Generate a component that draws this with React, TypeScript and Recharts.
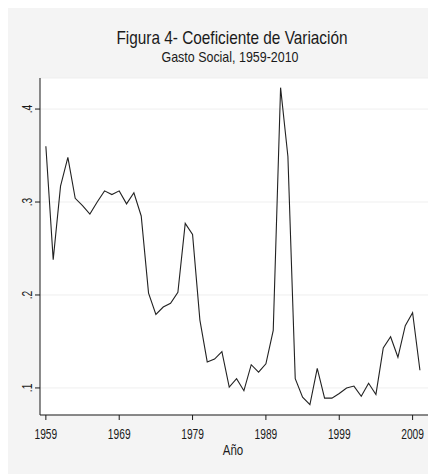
import React from "react";
import { LineChart, Line, XAxis, YAxis, CartesianGrid } from "recharts";

const years = [
  1959, 1960, 1961, 1962, 1963, 1964, 1965, 1966, 1967, 1968, 1969, 1970,
  1971, 1972, 1973, 1974, 1975, 1976, 1977, 1978, 1979, 1980, 1981, 1982,
  1983, 1984, 1985, 1986, 1987, 1988, 1989, 1990, 1991, 1992, 1993, 1994,
  1995, 1996, 1997, 1998, 1999, 2000, 2001, 2002, 2003, 2004, 2005, 2006,
  2007, 2008, 2009, 2010,
];

const cv = [
  0.36, 0.238, 0.317, 0.348, 0.304, 0.296, 0.287, 0.3, 0.312, 0.308, 0.312,
  0.298, 0.31, 0.285, 0.202, 0.179, 0.187, 0.191, 0.203, 0.277, 0.265, 0.173,
  0.128, 0.131, 0.139, 0.101, 0.11, 0.097, 0.125, 0.117, 0.126, 0.162, 0.423,
  0.349, 0.11, 0.09, 0.082, 0.121, 0.089, 0.089, 0.094, 0.1, 0.102, 0.091,
  0.105, 0.093, 0.143, 0.155, 0.133, 0.167, 0.181, 0.119,
];

const xTicks = [1959, 1969, 1979, 1989, 1999, 2009];
const yTicks = [0.1, 0.2, 0.3, 0.4];

const data = years.map((y, i) => ({ year: y, cv: cv[i] }));

// no narrow font installed, so squeeze Arial-like text horizontally
const font = "'Liberation Sans', Arial, sans-serif";
const ink = "#1a1a1a";
const squeeze = 0.73;

const XTick = (props: any) => {
  const { x, y, payload } = props;
  return (
    <text
      transform={`translate(${x} ${y + 17}) scale(${squeeze} 1)`}
      textAnchor="middle"
      fontSize={14}
      fontFamily={font}
      fill={ink}
    >
      {payload.value}
    </text>
  );
};

const YTick = (props: any) => {
  const { x, y, payload } = props;
  const label = String(payload.value).replace(/^0/, "");
  return (
    <text
      transform={`translate(${x - 1} ${y}) rotate(-90) scale(${squeeze} 1)`}
      textAnchor="middle"
      fontSize={14}
      fontFamily={font}
      fill={ink}
    >
      {label}
    </text>
  );
};

const textBox = (
  left: number,
  top: number,
  size: number,
  lh: number,
  sx: number
): React.CSSProperties => ({
  position: "absolute",
  left,
  top,
  transform: `translateX(-50%) scaleX(${sx})`,
  whiteSpace: "nowrap",
  fontSize: size,
  lineHeight: `${lh}px`,
});

const App = () => {
  return (
    <div
      style={{
        position: "relative",
        width: 428,
        height: 466,
        background: "#f4f4f4",
        fontFamily: font,
        color: ink,
      }}
    >
      <LineChart
        width={428}
        height={466}
        data={data}
        margin={{ top: 70, right: 8, left: 0, bottom: 0 }}
        style={{ position: "absolute", left: 0, top: 0 }}
      >
        <CartesianGrid vertical={false} stroke="#efefef" fill="#ffffff" />
        <XAxis
          dataKey="year"
          type="number"
          domain={[1958.2, 2011.1]}
          ticks={xTicks}
          allowDataOverflow
          height={59}
          tickSize={5}
          tickMargin={2}
          stroke={ink}
          tick={<XTick />}
        />
        <YAxis
          type="number"
          domain={[0.0709, 0.4334]}
          ticks={yTicks}
          allowDataOverflow
          width={32}
          tickSize={5}
          stroke={ink}
          tick={<YTick />}
        />
        <Line
          type="linear"
          dataKey="cv"
          stroke="#222222"
          strokeWidth={1.1}
          dot={false}
          isAnimationActive={false}
        />
      </LineChart>
      <div style={textBox(224, 21, 18.5, 17, 0.83)}>
        Figura 4- Coeficiente de Variación
      </div>
      <div style={textBox(222, 42, 15, 13, 0.83)}>Gasto Social, 1959-2010</div>
      <div style={textBox(225, 435, 14, 14, 0.82)}>Año</div>
    </div>
  );
};

export default App;
